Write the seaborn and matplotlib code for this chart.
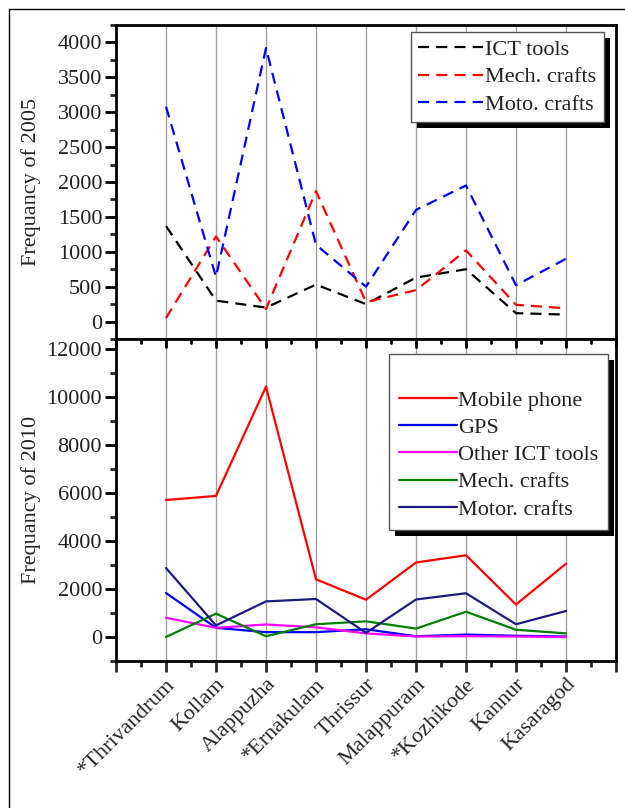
import numpy as np
import pandas as pd
import matplotlib
matplotlib.use("Agg")
import matplotlib.pyplot as plt
import seaborn as sns
from matplotlib.patches import Rectangle
from matplotlib.lines import Line2D
from matplotlib.ticker import MultipleLocator

districts = ["*Thrivandrum", "Kollam", "Alappuzha", "*Ernakulam", "Thrissur",
             "Malappuram", "*Kozhikode", "Kannur", "Kasaragod"]

# 2005
ict_2005 = [1370, 300, 200, 530, 250, 630, 750, 120, 100]
mech_2005 = [50, 1220, 180, 1870, 280, 450, 1020, 240, 190]
moto_2005 = [3080, 640, 3920, 1100, 500, 1600, 1950, 520, 900]

# 2010
mobile_2010 = [5700, 5870, 10420, 2400, 1550, 3100, 3400, 1350, 3050]
gps_2010 = [1830, 380, 200, 200, 320, 30, 100, 50, 20]
other_2010 = [800, 380, 520, 400, 150, 20, 30, 20, 0]
mech_2010 = [0, 970, 30, 530, 650, 350, 1050, 300, 150]
motor_2010 = [2870, 480, 1480, 1580, 170, 1560, 1820, 530, 1080]

sns.set_theme(style="white")
plt.rcParams["font.family"] = ["Liberation Serif", "DejaVu Serif"]
plt.rcParams["text.color"] = "#222222"

fig = plt.figure(figsize=(6.25, 8.08), dpi=100)
ax1 = fig.add_axes([116/625, 1-339/808, (616-116)/625, (339-25)/808])
ax2 = fig.add_axes([116/625, 1-661/808, (616-116)/625, (661-339)/808])

x = np.arange(len(districts))

FS = 16

top_series = [("ICT tools", ict_2005, "black"),
              ("Mech. crafts", mech_2005, "#ff0000"),
              ("Moto. crafts", moto_2005, "#0000ff")]
bot_series = [("Mobile phone", mobile_2010, "#ff0000"),
              ("GPS", gps_2010, "#0000ff"),
              ("Other ICT tools", other_2010, "#ff00ff"),
              ("Mech. crafts", mech_2010, "#008000"),
              ("Motor. crafts", motor_2010, "#1c1c80")]

for ax in (ax1, ax2):
    for xi in x:
        ax.axvline(xi, color="#a0a0a0", lw=1.0, zorder=0)

for name, vals, c in top_series:
    sns.lineplot(x=x, y=vals, ax=ax1, color=c, lw=1.6, label=name)
    ax1.lines[-1].set_dashes((5, 3.2))
for name, vals, c in bot_series:
    sns.lineplot(x=x, y=vals, ax=ax2, color=c, lw=1.6, label=name)

ax1.set_xlim(-1, 9)
ax2.set_xlim(-1, 9)
ax1.set_ylim(-250, 4250)
ax2.set_ylim(-1000, 12400)

ax1.yaxis.set_major_locator(MultipleLocator(500))
ax1.yaxis.set_minor_locator(MultipleLocator(250))
ax2.yaxis.set_major_locator(MultipleLocator(2000))
ax2.yaxis.set_minor_locator(MultipleLocator(1000))

for ax in (ax1, ax2):
    for s in ax.spines.values():
        s.set_linewidth(2.0)
        s.set_color("black")
    ax.tick_params(axis="y", which="major", direction="out", length=8, width=2,
                   labelsize=FS, left=True, colors="black", labelcolor="#222222", pad=2)
    ax.tick_params(axis="y", which="minor", direction="out", length=4, width=2, left=True)

ax1.set_xticks([])
ax1.tick_params(axis="x", bottom=False, labelbottom=False)

ax2.set_xticks(np.arange(-1, 10))
ax2.set_xticklabels([""] + districts + [""])
ax2.xaxis.set_minor_locator(MultipleLocator(0.5))
ax2.tick_params(axis="x", which="major", direction="out", length=8, width=2,
                bottom=True, top=False, labelsize=FS, pad=2)
ax2.tick_params(axis="x", which="minor", direction="out", length=4, width=2,
                bottom=True, top=False)
for lab in ax2.get_xticklabels():
    lab.set_rotation(45)
    lab.set_ha("right")
    lab.set_va("top")
    lab.set_rotation_mode("anchor")

# inward ticks along the shared top edge of the lower panel
for xt in np.arange(-1, 9.01, 0.5):
    major = abs(xt - round(xt)) < 1e-6
    ax2.plot([xt, xt], [1, 1 - (0.025 if major else 0.013)],
             transform=ax2.get_xaxis_transform(), color="black", lw=2,
             clip_on=False, zorder=3)

ax1.set_ylabel("Frequancy of 2005", fontsize=FS)
ax2.set_ylabel("Frequancy of 2010", fontsize=FS)
ax1.yaxis.set_label_coords((41 - 116) / 500, 0.5)
ax2.yaxis.set_label_coords((41 - 116) / 500, 0.5)
ax1.set_xlabel("")
ax2.set_xlabel("")

leg1 = ax1.legend(loc="upper right", bbox_to_anchor=(0.976, 0.978), fontsize=FS,
                  frameon=True, fancybox=False, framealpha=1, edgecolor="#555555",
                  handlelength=2.9, handletextpad=0.1, labelspacing=0.3,
                  borderpad=0.35, borderaxespad=0)
leg2 = ax2.legend(loc="upper right", bbox_to_anchor=(0.984, 0.952), fontsize=FS,
                  frameon=True, fancybox=False, framealpha=1, edgecolor="#555555",
                  handlelength=2.6, handletextpad=0.05, labelspacing=0.3,
                  borderpad=0.45, borderaxespad=0, title=" ", title_fontsize=FS)
for leg in (leg1, leg2):
    leg.get_frame().set_linewidth(1.0)
    leg.set_zorder(6)

fig.canvas.draw()
for ax, leg in ((ax1, leg1), (ax2, leg2)):
    bb = leg.get_window_extent()
    sh = Rectangle((bb.x0 + 6, bb.y0 - 6), bb.width, bb.height,
                   transform=None, facecolor="black", edgecolor="none",
                   zorder=5.5, clip_on=False)
    ax.add_artist(sh)

# outer border (left and top)
fig.add_artist(Line2D([9/625, 9/625], [0, 1-9/808], transform=fig.transFigure,
                      color="black", lw=1.0))
fig.add_artist(Line2D([9/625, 1], [1-9/808, 1-9/808], transform=fig.transFigure,
                      color="black", lw=1.0))

fig.savefig("out.png", dpi=100)
